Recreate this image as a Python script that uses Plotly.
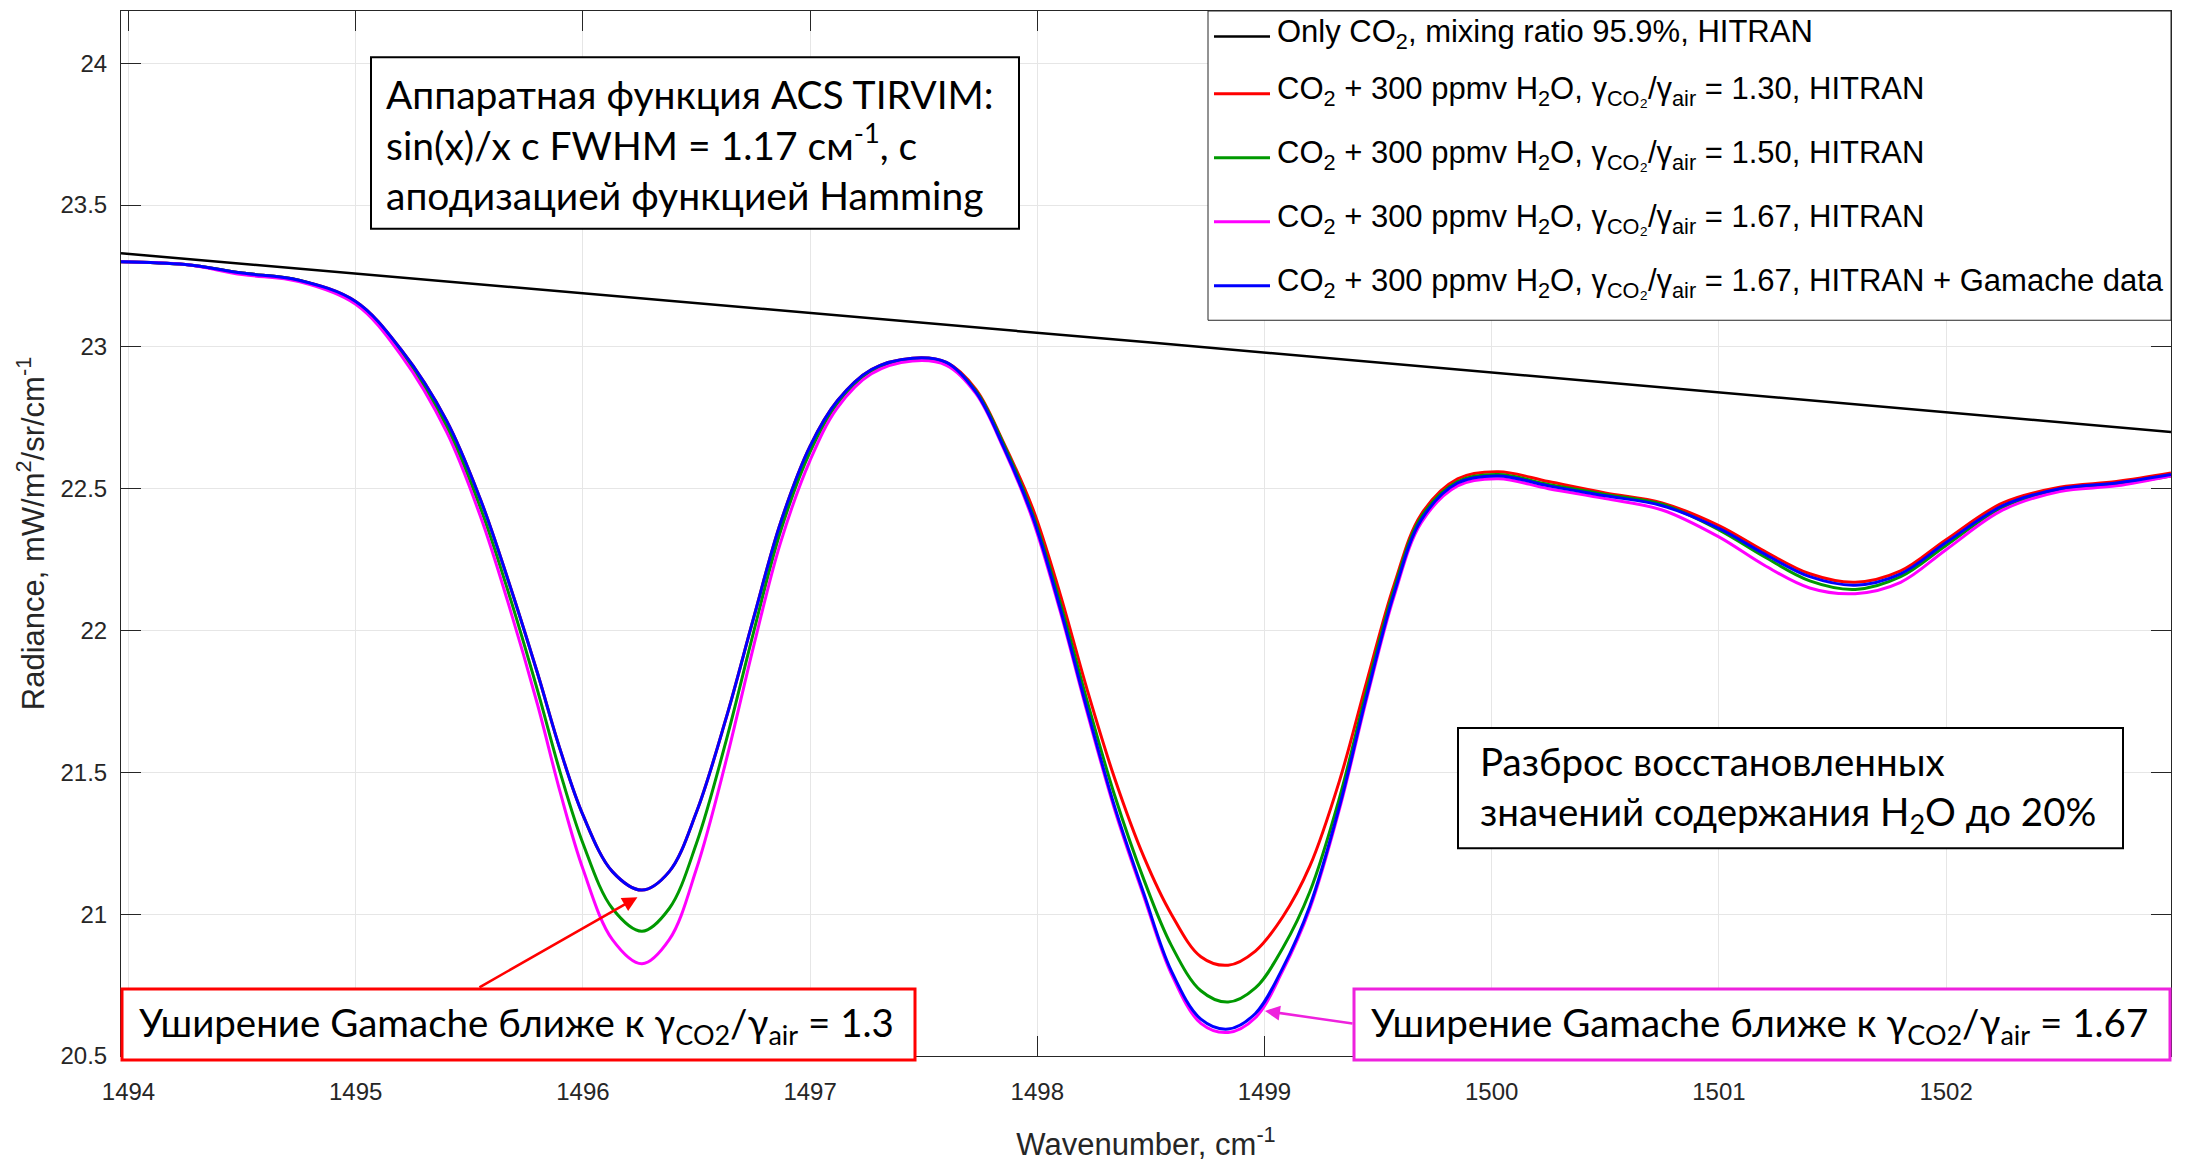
import plotly.graph_objects as go

# Spectral grid, cm-1
wavenumber = [
    1493.967, 1494.25, 1494.5, 1494.75, 1495.0, 1495.2, 1495.4, 1495.55, 1495.67, 1495.8,
    1495.9, 1496.0, 1496.13, 1496.26, 1496.38, 1496.5, 1496.63, 1496.75, 1496.87, 1497.0,
    1497.12, 1497.27, 1497.45, 1497.6, 1497.73, 1497.85, 1497.98, 1498.1, 1498.22, 1498.34,
    1498.47, 1498.59, 1498.72, 1498.84, 1498.96, 1499.08, 1499.2, 1499.33, 1499.45, 1499.57,
    1499.69, 1499.85, 1500.03, 1500.25, 1500.5, 1500.75, 1501.0, 1501.2, 1501.4, 1501.6,
    1501.8, 1502.0, 1502.25, 1502.5, 1502.75, 1502.99,
]

# Pure CO2 (straight over this window)
only_co2_x = [1493.967, 1498.5, 1502.99]
only_co2 = [23.33, 23.015, 22.70]

# CO2 + 300 ppmv H2O, gamma_CO2/gamma_air = 1.30
ratio_130 = [
    23.30, 23.29, 23.26, 23.235, 23.16, 22.99, 22.74, 22.46, 22.18, 21.85,
    21.58, 21.35, 21.15, 21.085, 21.15, 21.36, 21.69, 22.04, 22.38, 22.65,
    22.81, 22.92, 22.96, 22.945, 22.85, 22.665, 22.43, 22.13, 21.79, 21.48,
    21.20, 21.00, 20.85, 20.82, 20.87, 20.99, 21.17, 21.47, 21.82, 22.16,
    22.41, 22.535, 22.56, 22.525, 22.485, 22.45, 22.37, 22.28, 22.20, 22.17,
    22.21, 22.32, 22.45, 22.505, 22.525, 22.555,
]

# gamma_CO2/gamma_air = 1.50
ratio_150 = [
    23.30, 23.29, 23.26, 23.235, 23.155, 22.98, 22.72, 22.43, 22.14, 21.79,
    21.50, 21.25, 21.02, 20.94, 21.02, 21.25, 21.61, 21.99, 22.35, 22.63,
    22.80, 22.915, 22.955, 22.94, 22.845, 22.66, 22.41, 22.10, 21.75, 21.42,
    21.12, 20.89, 20.73, 20.69, 20.74, 20.88, 21.08, 21.41, 21.79, 22.145,
    22.40, 22.525, 22.55, 22.515, 22.48, 22.445, 22.355, 22.26, 22.175, 22.145,
    22.19, 22.30, 22.435, 22.495, 22.515, 22.545,
]

# gamma_CO2/gamma_air = 1.67
ratio_167 = [
    23.30, 23.29, 23.255, 23.23, 23.15, 22.97, 22.70, 22.40, 22.10, 21.74,
    21.43, 21.16, 20.91, 20.825, 20.91, 21.16, 21.54, 21.94, 22.31, 22.60,
    22.785, 22.905, 22.95, 22.935, 22.835, 22.645, 22.39, 22.07, 21.71, 21.37,
    21.06, 20.79, 20.615, 20.583, 20.635, 20.80, 21.02, 21.37, 21.76, 22.12,
    22.38, 22.51, 22.535, 22.50, 22.465, 22.425, 22.33, 22.23, 22.15, 22.13,
    22.17, 22.285, 22.425, 22.49, 22.51, 22.545,
]

# gamma_CO2/gamma_air = 1.67 with Gamache H2O broadening
ratio_167_gamache = [
    23.30, 23.29, 23.26, 23.235, 23.16, 22.99, 22.74, 22.46, 22.18, 21.85,
    21.58, 21.35, 21.15, 21.085, 21.15, 21.36, 21.69, 22.04, 22.38, 22.65,
    22.81, 22.92, 22.96, 22.945, 22.84, 22.65, 22.40, 22.08, 21.72, 21.38,
    21.07, 20.80, 20.63, 20.595, 20.65, 20.81, 21.03, 21.38, 21.77, 22.13,
    22.39, 22.52, 22.545, 22.51, 22.475, 22.44, 22.36, 22.27, 22.19, 22.16,
    22.20, 22.31, 22.44, 22.50, 22.52, 22.55,
]

x_ticks = [1494, 1495, 1496, 1497, 1498, 1499, 1500, 1501, 1502]
y_ticks = [20.5, 21, 21.5, 22, 22.5, 23, 23.5, 24]

gam = "γ<sub>CO₂</sub>/γ<sub>air</sub>"
series = [
    (only_co2_x, only_co2, "#000000", 2.5, "Only CO<sub>2</sub>, mixing ratio 95.9%, HITRAN"),
    (wavenumber, ratio_130, "#FF0000", 3, f"CO<sub>2</sub> + 300 ppmv H<sub>2</sub>O, {gam} = 1.30, HITRAN"),
    (wavenumber, ratio_150, "#009900", 3, f"CO<sub>2</sub> + 300 ppmv H<sub>2</sub>O, {gam} = 1.50, HITRAN"),
    (wavenumber, ratio_167, "#FF00FF", 3, f"CO<sub>2</sub> + 300 ppmv H<sub>2</sub>O, {gam} = 1.67, HITRAN"),
    (wavenumber, ratio_167_gamache, "#0000FF", 3,
     f"CO<sub>2</sub> + 300 ppmv H<sub>2</sub>O, {gam} = 1.67, HITRAN + Gamache data"),
]

AX = "#262626"
SANS = "Liberation Sans, Arial, sans-serif"
BOXFONT = "Lato, Carlito, Calibri, sans-serif"
MAGENTA_BOX = "#EE22DD"

# Plot area in pixels: x 121..2171, y 10..1071
L, R, T, B = 121, 2171, 10, 1071
def px(x):
    return (x - L) / (R - L)
def py(y):
    return (B - y) / (B - T)

fig = go.Figure()
for xs, ys, color, width, name in series:
    fig.add_trace(go.Scatter(
        x=xs, y=ys, mode="lines", name=name, showlegend=False,
        line=dict(color=color, width=width, shape="spline", smoothing=1.0),
    ))

fig.update_layout(
    width=2186, height=1165, autosize=False,
    margin=dict(l=L, r=2186 - R, t=T, b=1165 - B),
    paper_bgcolor="white", plot_bgcolor="white",
    xaxis=dict(
        range=[1493.967, 1502.99], tickvals=x_ticks,
        ticks="inside", ticklen=20, tickwidth=1, tickcolor=AX,
        showline=True, linecolor=AX, linewidth=1, mirror="ticks",
        showgrid=True, gridcolor="#E6E6E6", gridwidth=1, zeroline=False,
        tickfont=dict(family=SANS, size=24, color=AX),
        ticklabelstandoff=14,
        title=dict(text="Wavenumber, cm<sup>-1</sup>", font=dict(family=SANS, size=31, color=AX), standoff=29),
    ),
    yaxis=dict(
        range=[20.5, 24.184], tickvals=y_ticks,
        ticks="inside", ticklen=20, tickwidth=1, tickcolor=AX,
        showline=True, linecolor=AX, linewidth=1, mirror="ticks",
        showgrid=True, gridcolor="#E6E6E6", gridwidth=1, zeroline=False,
        tickfont=dict(family=SANS, size=24, color=AX),
        ticklabelstandoff=8,
        title=dict(text="Radiance, mW/m<sup>2</sup>/sr/cm<sup>-1</sup>", font=dict(family=SANS, size=31, color=AX), standoff=6),
    ),
)

# Legend panel: frame, line samples and entry labels
fig.add_shape(type="rect", xref="paper", yref="paper", layer="above",
              x0=px(1208), x1=1.0, y0=py(324), y1=1.0,
              fillcolor="white", line=dict(color=AX, width=1))
legend_rows = [36, 94, 159, 224, 289]
for (xs, ys, color, width, name), row in zip(series, legend_rows):
    fig.add_shape(type="line", xref="paper", yref="paper", layer="above",
                  x0=px(1214), x1=px(1270), y0=py(row), y1=py(row),
                  line=dict(color=color, width=width))
    fig.add_annotation(xref="paper", yref="paper", x=px(1275), y=py(row - 3),
                       xanchor="left", yanchor="middle", showarrow=False, text=name,
                       font=dict(family=SANS, size=31, color="black"))

# Comment boxes
def frame(x0, y0, x1, y1, color, width):
    fig.add_shape(type="rect", xref="paper", yref="paper", layer="above",
                  x0=px(x0), x1=px(x1), y0=py(y1), y1=py(y0),
                  fillcolor="white", line=dict(color=color, width=width))

def label(x, y, text, anchor="left", align="left", size=38.5):
    fig.add_annotation(xref="paper", yref="paper", x=px(x), y=py(y),
                       xanchor=anchor, yanchor="middle", showarrow=False, align=align,
                       text=text, font=dict(family=BOXFONT, size=size, color="black"))

frame(371, 57, 1019, 231, "black", 2)
label(384, 146, "Аппаратная функция ACS TIRVIM:<br>sin(x)/x с FWHM = 1.17 см<sup>-1</sup>, с<br>"
                "аподизацией функцией Hamming", size=39)

frame(1458, 738, 2123, 860, "black", 2)
label(1478, 800, "Разброс восстановленных<br>значений содержания H<sub>2</sub>O до 20%")

frame(122, 1003, 915, 1075, "#FF0000", 3)
label(516, 1040, "Уширение Gamache ближе к γ<sub>CO2</sub>/γ<sub>air</sub> = 1.3", anchor="center", align="center")

frame(1354, 1003, 2170, 1075, MAGENTA_BOX, 3)
label(1759, 1040, "Уширение Gamache ближе к γ<sub>CO2</sub>/γ<sub>air</sub> = 1.67", anchor="center", align="center")

# Pointer arrows from the comment boxes to the band minima
fig.add_annotation(x=1496.24, y=21.06, ax=1495.538, ay=20.739, xref="x", yref="y", axref="x", ayref="y",
                   text="", showarrow=True, arrowhead=2, arrowsize=1.2, arrowwidth=2.5, arrowcolor="#FF0000")
fig.add_annotation(x=1499.002, y=20.659, ax=1499.394, ay=20.6135, xref="x", yref="y", axref="x", ayref="y",
                   text="", showarrow=True, arrowhead=2, arrowsize=1.2, arrowwidth=2.5, arrowcolor=MAGENTA_BOX)

fig.write_html("out.html")
